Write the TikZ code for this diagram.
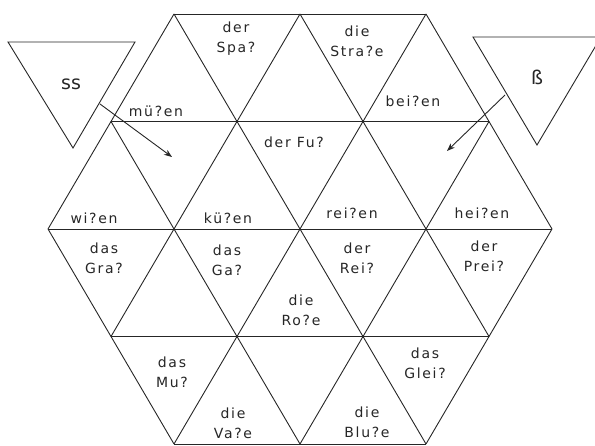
\documentclass[tikz,border=0pt]{standalone}
\usepackage{fontspec}
\setmainfont[LetterSpace=12]{DejaVu Sans}
\usetikzlibrary{arrows.meta}
\begin{document}
\begin{tikzpicture}[x=1pt, y=-1pt, line width=0.9pt, black!85,
        every node/.style={font=\fontsize{14}{20}\selectfont, align=center, inner sep=0pt},
        big/.style={font=\fontsize{19}{21}\selectfont\addfontfeature{LetterSpace=0}}]
        \clip (0,0) rectangle (595,446);
        % rows of the hexagon
        \foreach \yy/\xa/\xb in {14/174/426, 121.5/111/489, 229/48/552, 336.5/111/489, 444/174/426}
            \draw (\xa,\yy) -- (\xb,\yy);
        % slanted lines
        \foreach \xa/\ya/\xb/\yb in {174/14/426/444, 300/14/489/336.5, 426/14/552/229, 111/121.5/300/444, 48/229/174/444,
                426/14/174/444, 300/14/111/336.5, 174/14/48/229, 489/121.5/300/444, 552/229/426/444}
            \draw (\xa,\ya) -- (\xb,\yb);
        % the two loose triangles
        \draw (8,42) -- (135,42) -- (73,148) -- cycle;
        \draw (473,37) -- (601,37) -- (537,145) -- cycle;
        \node[big] (ss) at (71,84) {ss};
        \node[big] (sz) at (537,77) {ß};
        \coordinate (ssfrom) at (100,104);
        \coordinate (ssto) at (172,157);
        \coordinate (szfrom) at (505,95);
        \coordinate (szto) at (447,151);
        \draw[-{Stealth[length=8pt,width=6pt]}] (ssfrom) -- (ssto);
        \draw[-{Stealth[length=8pt,width=6pt]}] (szfrom) -- (szto);
        % words, row by row
        \node (muessen) at (156,111) {mü?en};
        \node (spass) at (236,39) {der\\Spa?};
        \node (strasse) at (357,41) {die\\Stra?e};
        \node (beissen) at (413,101) {bei?en};
        \node (fuss) at (294,142) {der Fu?};
        \node (wissen) at (94,218) {wi?en};
        \node (kuessen) at (228,218) {kü?en};
        \node (reissen) at (352,213) {rei?en};
        \node (heissen) at (482,213) {hei?en};
        \node (gras) at (104,258) {das\\Gra?};
        \node (gass) at (227,260) {das\\Ga?};
        \node (rose) at (301,310) {die\\Ro?e};
        \node (reis) at (357,258) {der\\Rei?};
        \node (preis) at (484,256) {der\\Prei?};
        \node (muss) at (172,372) {das\\Mu?};
        \node (vase) at (233,423) {die\\Va?e};
        \node (glei) at (425,363) {das\\Glei?};
        \node (blume) at (367,422) {die\\Blu?e};
    \end{tikzpicture}
\end{document}
